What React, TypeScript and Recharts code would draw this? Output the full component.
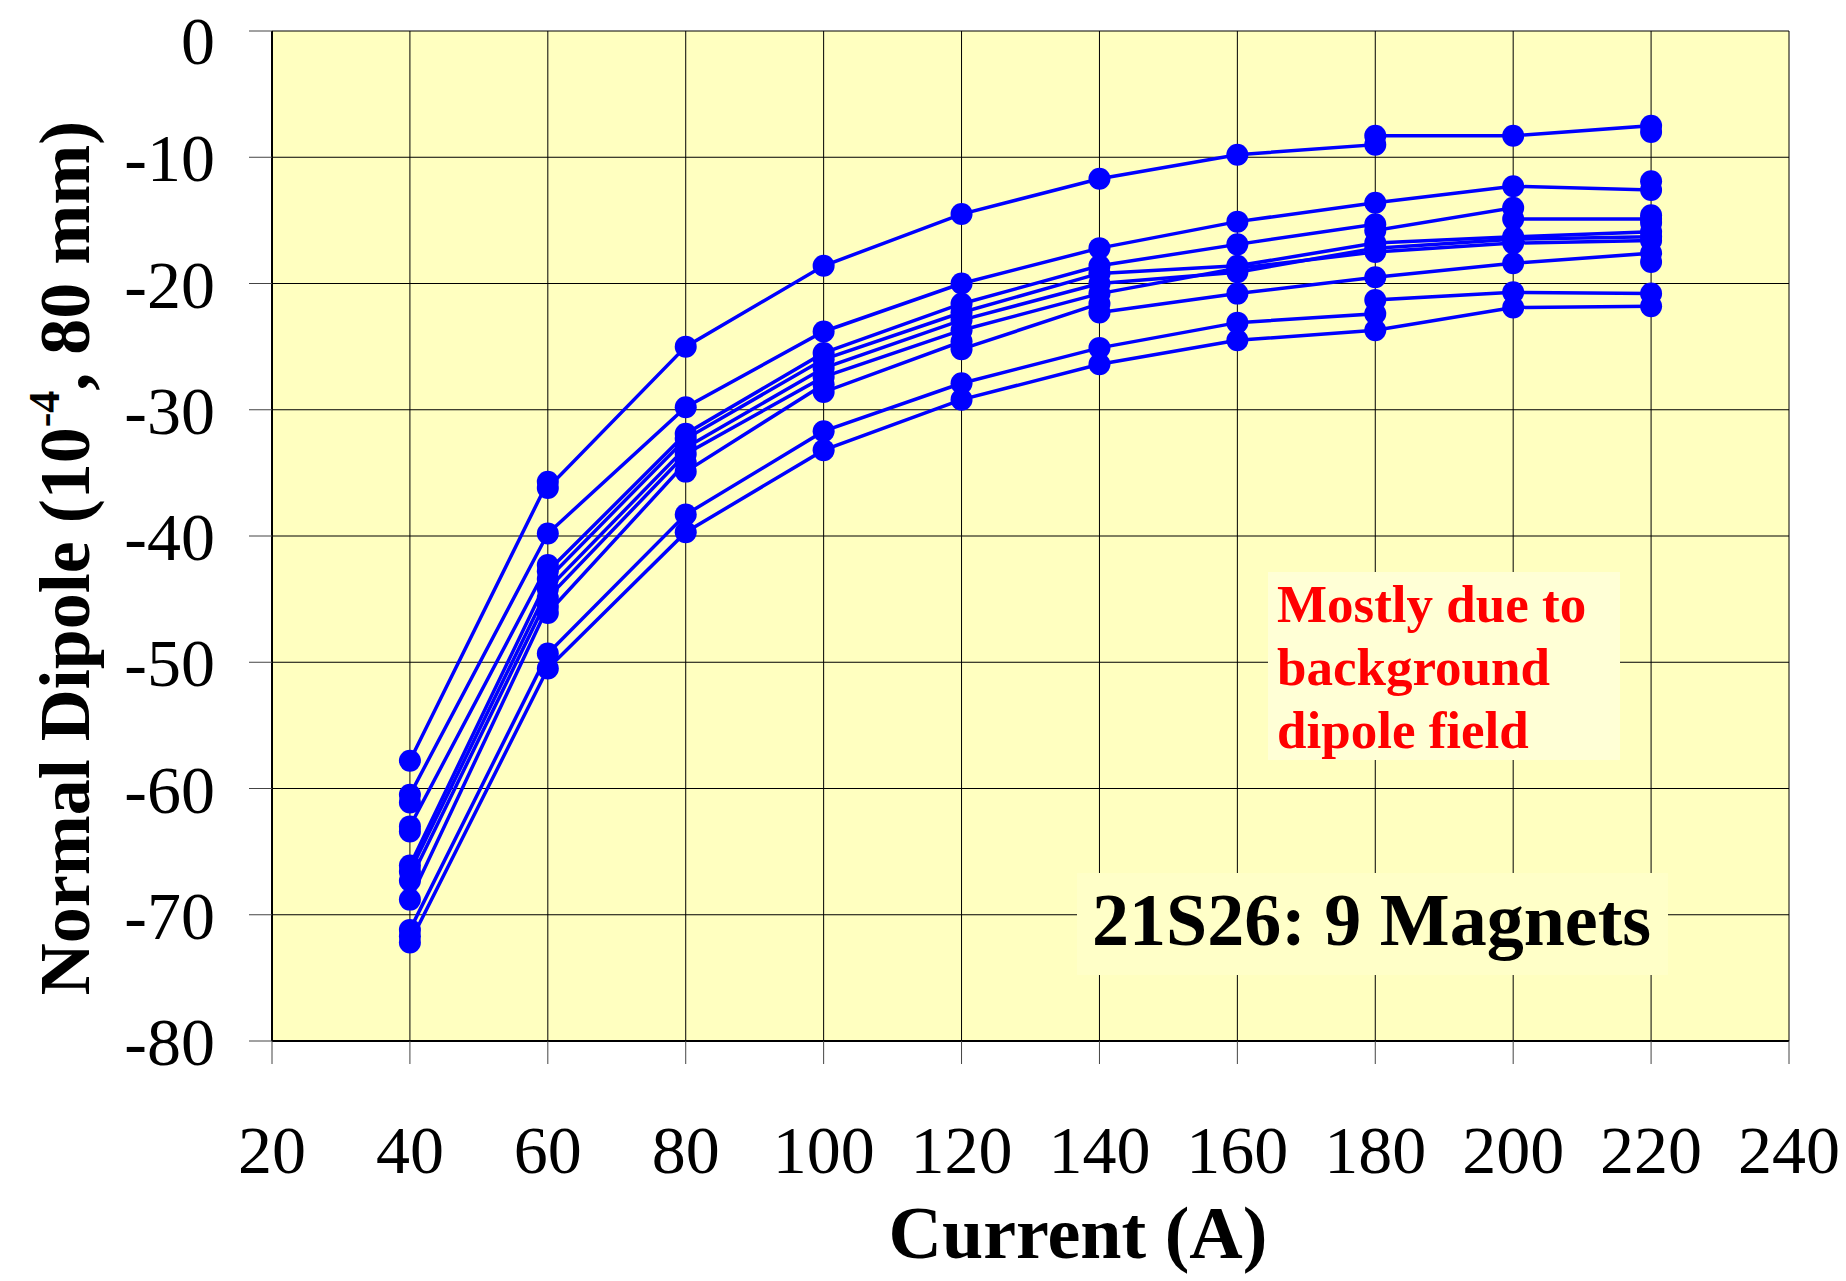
import { ScatterChart, Scatter, XAxis, YAxis, CartesianGrid } from 'recharts';

// currents (A) at which each magnet was measured
const CURRENTS = [40, 60, 80, 100, 120, 140, 160, 180, 200, 220];

// normal dipole (10^-4 @ 80 mm), first reading at each current
const MAG_A = [-57.8, -35.7, -25.0, -18.6, -14.5, -11.7, -9.8, -9.0, -8.3, -7.5];
const MAG_B = [-61.1, -39.8, -29.8, -23.8, -20.0, -17.2, -15.1, -13.6, -12.3, -12.6];
const MAG_C = [-63.4, -42.3, -31.9, -25.5, -21.6, -18.6, -16.9, -15.3, -14.0, -14.9];
const MAG_D = [-66.1, -43.4, -32.3, -26.0, -22.3, -19.2, -18.6, -16.8, -16.3, -15.9];
const MAG_E = [-66.6, -44.2, -33.0, -26.7, -22.9, -20.0, -19.1, -17.2, -16.5, -16.3];
const MAG_F = [-67.3, -44.9, -33.5, -27.4, -23.7, -20.8, -18.8, -17.5, -16.8, -16.6];
const MAG_G = [-68.8, -45.6, -34.2, -28.0, -24.6, -21.6, -20.8, -19.5, -18.4, -17.6];
const MAG_H = [-71.2, -49.3, -38.3, -31.7, -27.9, -25.1, -23.1, -22.4, -20.7, -20.8];
const MAG_I = [-71.7, -50.5, -39.7, -33.2, -29.2, -26.4, -24.5, -23.7, -21.9, -21.8];

// repeated reading at the same current (null = none)
const REP_A = [null, -36.2, null, null, null, null, null, -8.3, null, -8.0];
const REP_B = [-60.5, null, null, null, null, null, null, null, null, -11.9];
const REP_C = [-63.0, -42.8, null, null, null, null, null, -15.8, -14.9, -14.6];
const REP_D = [null, null, null, null, null, null, null, null, null, -15.2];
const REP_E = [null, null, null, null, null, null, null, null, null, null];
const REP_F = [null, null, null, null, null, null, null, null, null, null];
const REP_G = [null, -46.1, -34.9, -28.6, -25.2, -22.3, null, null, null, -18.3];
const REP_H = [null, null, null, null, null, null, null, -21.3, null, null];
const REP_I = [-72.2, null, null, null, null, null, null, null, null, null];

const X_TICKS = [20, 40, 60, 80, 100, 120, 140, 160, 180, 200, 220, 240];
const Y_TICKS = [-80, -70, -60, -50, -40, -30, -20, -10, 0];

const MAGNETS: [number[], (number | null)[]][] = [
  [MAG_A, REP_A], [MAG_B, REP_B], [MAG_C, REP_C], [MAG_D, REP_D], [MAG_E, REP_E],
  [MAG_F, REP_F], [MAG_G, REP_G], [MAG_H, REP_H], [MAG_I, REP_I],
];

const buildSeries = (vals: number[], reps: (number | null)[]) => {
  const pts: { x: number; y: number }[] = [];
  CURRENTS.forEach((c, i) => {
    pts.push({ x: c, y: vals[i] });
    if (reps[i] !== null) pts.push({ x: c, y: reps[i] as number });
  });
  return pts;
};

const SERIF = '"Liberation Serif", "Times New Roman", serif';
const BLUE = '#0000FF';

const dot = (p: any) => <circle cx={p.cx} cy={p.cy} r={11} fill={BLUE} />;

export default function App() {
  return (
    <div style={{ position: 'absolute', left: 0, top: 0, width: 1846, height: 1281, background: '#fff' }}>
      <ScatterChart width={1846} height={1281} margin={{ top: 31, right: 57, bottom: 0, left: 0 }}>
        <CartesianGrid fill="#FFFFC0" fillOpacity={1} stroke="#000" strokeWidth={1} />
        <XAxis
          type="number"
          dataKey="x"
          domain={[20, 240]}
          ticks={X_TICKS}
          height={240}
          tickSize={23}
          tickMargin={61}
          axisLine={{ stroke: '#000', strokeWidth: 2 }}
          tickLine={{ stroke: '#444' }}
          tick={{ fill: '#000', fontSize: 68, fontFamily: SERIF }}
          label={{
            content: () => (
              <text x={1078} y={1258} textAnchor="middle" fontFamily={SERIF} fontWeight="bold" fontSize={74} fill="#000">
                Current (A)
              </text>
            ),
          }}
        />
        <YAxis
          type="number"
          dataKey="y"
          domain={[-80, 0]}
          ticks={Y_TICKS}
          width={272}
          tickSize={23}
          tickMargin={34}
          axisLine={{ stroke: '#000', strokeWidth: 2 }}
          tickLine={{ stroke: '#444' }}
          tick={{ fill: '#000', fontSize: 68, fontFamily: SERIF }}
          label={{
            content: () => (
              <text
                transform="translate(89,558) rotate(-90)"
                textAnchor="middle"
                fontFamily={SERIF}
                fontWeight="bold"
                fontSize={72}
                fill="#000"
              >
                Normal Dipole (10
                <tspan fontSize={44} dy={-30}>-4</tspan>
                <tspan dy={30}>, 80 mm)</tspan>
              </text>
            ),
          }}
        />
        {MAGNETS.map(([vals, reps], i) => (
          <Scatter
            key={i}
            data={buildSeries(vals, reps)}
            fill={BLUE}
            line={{ stroke: BLUE, strokeWidth: 3.5 }}
            shape={dot}
            isAnimationActive={false}
          />
        ))}
      </ScatterChart>
      <svg width={1846} height={1281} style={{ position: 'absolute', left: 0, top: 0, pointerEvents: 'none' }}>
        <rect x={1268} y={572} width={352} height={188} fill="#FFFFD6" />
        <g fontFamily={SERIF} fontWeight="bold" fontSize={53} fill="#FF0000">
          <text x={1277} y={622}>Mostly due to</text>
          <text x={1277} y={685}>background</text>
          <text x={1277} y={748}>dipole field</text>
        </g>
        <rect x={1077} y={873} width={591} height={102} fill="#FFFFC8" />
        <text x={1092} y={945} fontFamily={SERIF} fontWeight="bold" fontSize={74} fill="#000">
          21S26: 9 Magnets
        </text>
      </svg>
    </div>
  );
}
